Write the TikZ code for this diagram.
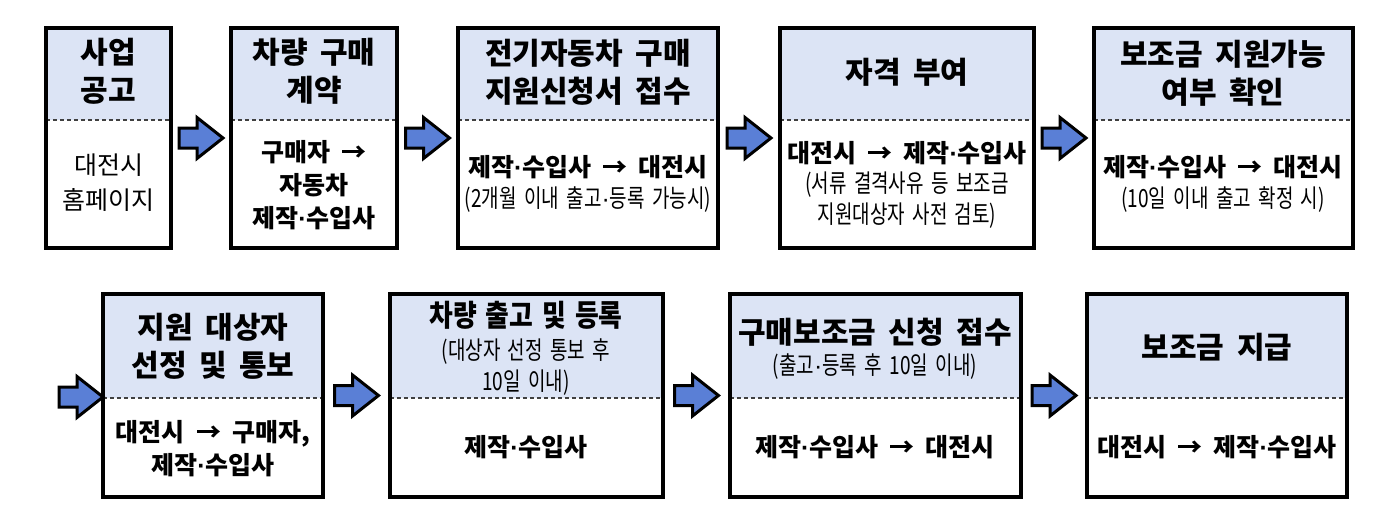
\documentclass[tikz,border=0pt]{standalone}
\usepackage{fontspec}
\setmainfont{Noto Sans CJK KR}
\newfontfamily\condfont[FakeStretch=0.86]{Noto Sans CJK KR}
\newfontfamily\parfont[FakeStretch=0.76]{Noto Sans CJK KR}
\newfontfamily\latinfont{Liberation Sans}
\newcommand\dt{{\latinfont ·}}
\newcommand\hdrfont{\bfseries\fontsize{30}{38}\selectfont\spaceskip 0.42em\relax}
\newcommand\hdrcfont{\condfont\bfseries\fontsize{30}{38}\selectfont\spaceskip 0.3em\relax}
\newcommand\bodybfont{\bfseries\fontsize{25}{33}\selectfont\spaceskip 0.45em\relax}
\newcommand\bodyrfont{\fontsize{25}{35}\selectfont}
\newcommand\parenfont{\parfont\fontsize{25}{31}\selectfont\spaceskip 0.3em\relax}
\usetikzlibrary{calc}
\definecolor{hdrblue}{HTML}{DCE4F5}
\definecolor{arrblue}{HTML}{5A7FD6}
\tikzset{
  hdr/.style={font=\hdrfont, align=center, inner sep=0pt},
  hdrc/.style={font=\hdrcfont, align=center, inner sep=0pt},
  bodyb/.style={font=\bodybfont, align=center, inner sep=0pt},
  bodyr/.style={font=\bodyrfont, align=center, inner sep=0pt},
  paren/.style={font=\parenfont, align=center, inner sep=0pt},
  frame/.style={draw, line width=3.2pt, inner sep=0pt, outer sep=0pt},
  sep/.style={draw=black!75, line width=1.1pt, dash pattern=on 4pt off 3pt},
  barrow/.pic={\draw[line width=3pt, fill=arrblue, line join=miter]
     (-22,-10) -- (-4,-10) -- (-4,-20.5) -- (22,0) -- (-4,20.5) -- (-4,10) -- (-22,10) -- cycle;}
}
% name, x1, x2, ytop, ydash, ybot
\newcommand\mkbox[6]{%
  \fill[hdrblue] (#2,#4) rectangle (#3,#5);
  \draw[sep] (#2,#5) -- (#3,#5);
  \node[frame, anchor=north west, minimum width=#3pt-#2pt, minimum height=#6pt-#4pt] (#1) at (#2,#4) {};
}
\begin{document}
\begin{tikzpicture}[x=1pt, y=-1pt]
\useasboundingbox (0,0) rectangle (1393,520);
\fill[white] (0,0) rectangle (1393,520);
% row 1
\mkbox{b1}{46}{171}{28}{120}{248}
\mkbox{b2}{231}{397}{28}{120}{248}
\mkbox{b3}{458}{718}{28}{120}{248}
\mkbox{b4}{780}{1034}{28}{120}{248}
\mkbox{b5}{1094}{1353}{28}{120}{248}
% row 2
\mkbox{b6}{103}{323}{294}{398}{497}
\mkbox{b7}{390}{663}{294}{398}{497}
\mkbox{b8}{730}{1021}{294}{398}{497}
\mkbox{b9}{1087}{1347}{294}{398}{497}
% arrows
\pic at ($(b1.east)!0.5!(b2.west)$) {barrow};
\pic at ($(b2.east)!0.5!(b3.west)$) {barrow};
\pic at ($(b3.east)!0.5!(b4.west)$) {barrow};
\pic at ($(b4.east)!0.5!(b5.west)$) {barrow};
\pic at ($(b6.west)+(-22,1.5)$) {barrow};
\pic at ($(b6.east)!0.5!(b7.west)$) {barrow};
\pic at ($(b7.east)!0.5!(b8.west)$) {barrow};
\pic at ($(b8.east)!0.5!(b9.west)$) {barrow};
% texts row 1
\node[hdr] (t1h) at (108.5,71) {사업\\공고};
\node[bodyr] (t1b) at (108.5,183) {대전시\\홈페이지};
\node[hdr] (t2h) at (314,71) {차량 구매\\계약};
\node[bodyb] (t2b) at (314,185) {구매자 →\\자동차\\제작\dt 수입사};
\node[hdr] (t3h) at (588,72) {전기자동차 구매\\지원신청서 접수};
\node[bodyb] (t3b) at (588,167) {제작\dt 수입사 → 대전시};
\node[paren] (t3p) at (588,200) {(2개월 이내 출고\dt 등록 가능시)};
\node[hdr] (t4h) at (907,72) {자격 부여};
\node[bodyb] (t4b) at (907,153) {대전시 → 제작\dt 수입사};
\node[paren] (t4p) at (907,200) {(서류 결격사유 등 보조금\\지원대상자 사전 검토)};
\node[hdr] (t5h) at (1223,73) {보조금 지원가능\\여부 확인};
\node[bodyb] (t5b) at (1223,167) {제작\dt 수입사 → 대전시};
\node[paren] (t5p) at (1223,200) {(10일 이내 출고 확정 시)};
% texts row 2
\node[hdr] (t6h) at (213,346) {지원 대상자\\선정 및 통보};
\node[bodyb] (t6b) at (213,449) {대전시 → 구매자,\\제작\dt 수입사};
\node[hdrc] (t7h) at (526,315) {차량 출고 및 등록};
\node[paren] (t7p) at (526,367) {(대상자 선정 통보 후\\10일 이내)};
\node[bodyb] (t7b) at (526,447) {제작\dt 수입사};
\node[hdr] (t8h) at (875,332) {구매보조금 신청 접수};
\node[paren] (t8p) at (875,367) {(출고\dt 등록 후 10일 이내)};
\node[bodyb] (t8b) at (875,447) {제작\dt 수입사 → 대전시};
\node[hdr] (t9h) at (1217,347) {보조금 지급};
\node[bodyb] (t9b) at (1217,447) {대전시 → 제작\dt 수입사};
\end{tikzpicture}
\end{document}
